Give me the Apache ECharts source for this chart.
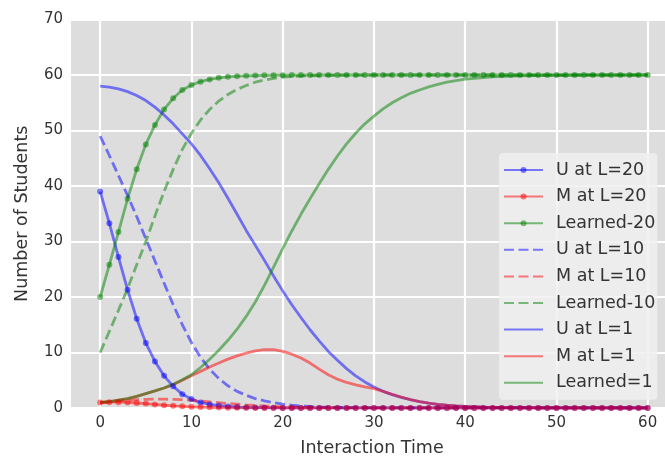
<!DOCTYPE html>
<html><head><meta charset="utf-8">
<script src="https://cdn.jsdelivr.net/npm/echarts@6/dist/echarts.min.js"></script>
<style>html,body{margin:0;padding:0;background:#fff}#c{width:665px;height:458px}</style>
</head><body><div id="c"></div>
<script>
const T = [0,1,2,3,4,5,6,7,8,9,10,11,12,13,14,15,16,17,18,19,20,21,22,23,24,25,26,27,28,29,30,31,32,33,34,35,36,37,38,39,40,41,42,43,44,45,46,47,48,49,50,51,52,53,54,55,56,57,58,59,60];
const xTicks = [0,10,20,30,40,50,60];
const yTicks = [0,10,20,30,40,50,60,70];

const U20 = [39.0,33.3,27.2,21.3,16.1,11.7,8.4,5.8,3.9,2.5,1.6,1.0,0.65,0.42,0.27,0.17,0.11,0.07,0.05,0.03,0.02,
  0,0,0,0,0,0,0,0,0,0,0,0,0,0,0,0,0,0,0,0,0,0,0,0,0,0,0,0,0,0,0,0,0,0,0,0,0,0,0,0];
const M20 = [1.0,1.05,1.05,1.0,0.9,0.8,0.65,0.5,0.4,0.3,0.22,0.16,0.12,0.08,0.06,0.04,0.03,0.02,0.01,0.01,
  0,0,0,0,0,0,0,0,0,0,0,0,0,0,0,0,0,0,0,0,0,0,0,0,0,0,0,0,0,0,0,0,0,0,0,0,0,0,0,0,0];
const L20 = [20.0,25.8,31.7,37.7,43.0,47.5,51.0,53.8,55.8,57.3,58.2,58.8,59.2,59.5,59.67,59.79,59.86,59.91,59.94,59.96,59.97,59.98,59.99,59.99,
  60,60,60,60,60,60,60,60,60,60,60,60,60,60,60,60,60,60,60,60,60,60,60,60,60,60,60,60,60,60,60,60,60,60,60,60,60];
const U10 = [49.0,45.5,41.9,38.3,34.5,30.5,26.5,22.5,18.6,15.0,11.8,9.1,7.0,5.3,4.0,3.0,2.3,1.7,1.3,0.95,0.7,0.5,0.38,0.28,0.2,0.15,0.11,0.08,0.06,0.04,0.03,0.02,0.01,
  0,0,0,0,0,0,0,0,0,0,0,0,0,0,0,0,0,0,0,0,0,0,0,0,0,0,0,0];
const M10 = [1.0,1.15,1.3,1.4,1.5,1.55,1.6,1.6,1.55,1.5,1.4,1.25,1.1,0.95,0.8,0.68,0.55,0.45,0.36,0.28,0.22,0.17,0.13,0.1,0.08,0.06,0.05,0.04,0.03,0.02,0.01,
  0,0,0,0,0,0,0,0,0,0,0,0,0,0,0,0,0,0,0,0,0,0,0,0,0,0,0,0,0,0];
const L10 = [10.0,13.8,17.6,21.5,25.8,30.0,34.6,39.0,43.0,46.6,49.5,51.9,53.8,55.3,56.5,57.4,58.1,58.7,59.1,59.4,59.6,59.72,59.8,59.86,59.9,59.93,59.95,59.97,59.98,59.99,
  60,60,60,60,60,60,60,60,60,60,60,60,60,60,60,60,60,60,60,60,60,60,60,60,60,60,60,60,60,60,60];
const U1 = [58.0,57.8,57.5,57.0,56.3,55.4,54.2,52.8,51.2,49.4,47.6,45.5,43.1,40.6,37.8,34.9,32.0,29.3,26.6,23.8,21.1,18.6,16.3,14.1,12.1,10.2,8.6,7.1,5.8,4.7,
  3.8,3.0,2.4,1.9,1.5,1.15,0.88,0.67,0.51,0.39,0.3,0.23,0.17,0.13,0.1,0.08,0.06,0.05,0.04,0.03,0.02,0.02,0.01,0.01,0.01,0,0,0,0,0,0];
const M1 = [0.9,1.1,1.4,1.7,2.1,2.6,3.1,3.6,4.2,5.0,5.8,6.6,7.4,8.1,8.8,9.4,9.9,10.3,10.5,10.5,10.2,9.7,9.0,8.1,7.0,6.0,5.2,4.6,4.15,3.8,
  3.5,3.0,2.45,1.95,1.5,1.15,0.88,0.67,0.51,0.39,0.3,0.23,0.17,0.13,0.1,0.08,0.06,0.05,0.04,0.03,0.02,0.02,0.01,0.01,0.01,0,0,0,0,0,0];
const L1 = [1.0,1.15,1.4,1.7,2.1,2.6,3.1,3.6,4.3,5.1,6.0,7.3,8.8,10.4,12.2,14.2,16.5,19.1,22.1,25.4,28.7,31.9,34.9,37.7,40.4,43.0,45.4,47.6,49.5,51.2,
  52.6,53.9,55.0,55.9,56.7,57.3,57.85,58.3,58.7,59.0,59.25,59.4,59.55,59.65,59.72,59.78,59.83,59.87,59.9,59.92,59.94,59.95,59.96,59.97,59.98,59.98,59.99,59.99,59.99,60,60];

const names = ['U at L=20','M at L=20','Learned-20','U at L=10','M at L=10','Learned-10','U at L=1','M at L=1','Learned=1'];
const FONT = 'DejaVu Sans';
const BLUE = '#0000ff', RED = '#ff0000', GREEN = '#008000';

function mk(name, arr, color, kind) {
  const dot = kind === 'dot';
  const s = {
    name: name, type: 'line',
    data: T.map((t, i) => [t, arr[i]]),
    lineStyle: { color: color, width: 2.8, opacity: 0.5, type: kind === 'dash' ? [10, 4.5] : 'solid' },
    itemStyle: { color: color, opacity: dot ? 0.5 : 0 },
    emphasis: { disabled: true },
    clip: true
  };
  if (dot) { s.symbol = 'circle'; s.symbolSize = 6; s.showSymbol = true; }
  else { s.symbol = 'none'; }
  return s;
}

const chart = echarts.init(document.getElementById('c'), null, { renderer: 'canvas' });
chart.setOption({
  animation: false,
  backgroundColor: '#ffffff',
  textStyle: { fontFamily: FONT },
  grid: { left: 71, right: 0, top: 19.5, bottom: 50, outerBoundsMode: 'none', containLabel: false,
          show: true, backgroundColor: '#dddddd', borderWidth: 0 },
  xAxis: {
    type: 'value', min: -3.2, max: 61.9,
    name: 'Interaction Time', nameLocation: 'middle', nameGap: 31,
    nameTextStyle: { fontSize: 17.5, color: '#333', fontFamily: FONT, padding: [0, 0, 0, 8] },
    axisLine: { show: false },
    axisTick: { show: false, customValues: xTicks },
    axisLabel: { customValues: xTicks, fontSize: 15, color: '#333', margin: 8, fontFamily: FONT },
    splitLine: { show: true, lineStyle: { color: '#ffffff', width: 2.2 } }
  },
  yAxis: {
    type: 'value', min: 0, max: 70, interval: 10,
    name: 'Number of Students', nameLocation: 'middle', nameGap: 40,
    nameTextStyle: { fontSize: 17.5, color: '#333', fontFamily: FONT },
    axisLine: { show: false }, axisTick: { show: false },
    axisLabel: { fontSize: 15, color: '#333', margin: 8, fontFamily: FONT },
    splitLine: { show: true, lineStyle: { color: '#ffffff', width: 2.2 } }
  },
  legend: {
    orient: 'vertical', left: 499, top: 153,
    data: names,
    itemWidth: 39, itemHeight: 7.5, itemGap: 8.6,
    padding: [8, 2, 8, 4],
    backgroundColor: 'rgba(240,240,240,0.85)', borderRadius: 4,
    textStyle: { fontSize: 17.5, color: '#333', fontFamily: FONT, padding: [0, 0, 0, 8] },
    selectedMode: false
  },
  series: [
    mk(names[0], U20, BLUE, 'dot'),
    mk(names[1], M20, RED, 'dot'),
    mk(names[2], L20, GREEN, 'dot'),
    mk(names[3], U10, BLUE, 'dash'),
    mk(names[4], M10, RED, 'dash'),
    mk(names[5], L10, GREEN, 'dash'),
    mk(names[6], U1, BLUE, 'solid'),
    mk(names[7], M1, RED, 'solid'),
    mk(names[8], L1, GREEN, 'solid')
  ]
});
</script>
</body></html>
